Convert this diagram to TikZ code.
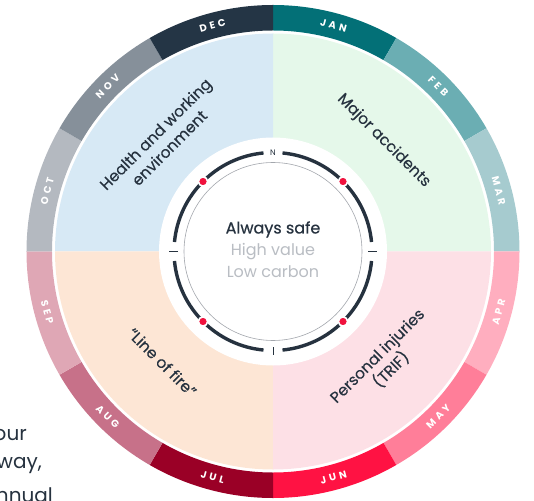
\documentclass[tikz,border=0pt]{standalone}
\usepackage{fontspec}
\setmainfont{Poppins}
\usepackage{xcolor}
\definecolor{ink}{HTML}{26323F}
\definecolor{hubgrey}{HTML}{B9BDC3}
\definecolor{facegrey}{HTML}{A3A7AD}
\definecolor{alarm}{HTML}{F0123E}
\definecolor{quadblue}{HTML}{D7E9F5}
\definecolor{quadgreen}{HTML}{E5F8EA}
\definecolor{quadpeach}{HTML}{FDE6D5}
\definecolor{quadpink}{HTML}{FDE0E6}
\definecolor{monjan}{HTML}{037077}
\definecolor{monfeb}{HTML}{6BAEB3}
\definecolor{monmar}{HTML}{A6CBCF}
\definecolor{monapr}{HTML}{FFAEBF}
\definecolor{monmay}{HTML}{FF7E99}
\definecolor{monjun}{HTML}{FF1243}
\definecolor{monjul}{HTML}{9A0026}
\definecolor{monaug}{HTML}{C77189}
\definecolor{monsep}{HTML}{DFA7B5}
\definecolor{monoct}{HTML}{B4B9C0}
\definecolor{monnov}{HTML}{86909A}
\definecolor{mondec}{HTML}{243545}
\usetikzlibrary{positioning}

\begin{document}
\begin{tikzpicture}[x=1pt, y=1pt,
		monthlbl/.style={text=white, inner sep=0pt,
			font=\fontsize{10}{10}\selectfont\bfseries\addfontfeature{LetterSpace=32}},
		quadlbl/.style={text=ink, align=center, inner sep=0pt,
			font=\fontsize{15.5}{19.5}\selectfont\addfontfeature{FakeBold=0.3}},
		hubmain/.style={text=ink, anchor=base, inner sep=0pt,
			font=\fontsize{16}{16}\selectfont\addfontfeature{FakeBold=0.6}},
		hubsub/.style={hubmain, text=hubgrey,
			font=\fontsize{16}{16}\selectfont},
		dial/.style={ink, line width=3.4pt},
		tick/.style={ink, line width=0.9pt},
		para/.style={text=ink, anchor=base east, inner sep=0pt,
			font=\fontsize{20}{20}\selectfont}]

		\useasboundingbox (-273,-248.5) rectangle (261,251.5);

		% ---------- Radii of the wheel, all measured from its centre
		\def\rout{246.5}   % outer edge of the month ring
		\def\rin{221}      % inner edge of the month ring
		\def\rmon{233.7}   % month labels sit halfway across the ring
		\def\rquad{218}    % quadrant fill, leaving a thin white gap
		\def\rhub{114}     % white hub
		\def\rdial{99}     % dark compass arcs
		\def\rface{89}     % thin grey face circle

		% ================= Quadrants =================
		\foreach \a/\col in {0/quadgreen, 90/quadblue, 180/quadpeach, 270/quadpink}
			\fill[\col] (0,0) -- (\a:\rquad pt) arc[start angle=\a, end angle=\a+90, radius=\rquad pt] -- cycle;

		% ================= Month ring =================
		% JAN starts at twelve o'clock and the months run clockwise;
		% APR..SEP sit on the lower half and are turned to stay upright
		\foreach \mon/\col [count=\i from 0] in {JAN/monjan, FEB/monfeb, MAR/monmar, APR/monapr,
				MAY/monmay, JUN/monjun, JUL/monjul, AUG/monaug, SEP/monsep, OCT/monoct,
				NOV/monnov, DEC/mondec} {
			\pgfmathsetmacro{\sa}{90-30*\i}
			\pgfmathsetmacro{\ea}{60-30*\i}
			\pgfmathsetmacro{\ma}{75-30*\i}
			\pgfmathsetmacro{\rot}{ifthenelse(and(\i>2,\i<9), \ma+90, \ma-90)}
			\fill[\col] (\sa:\rin pt) arc[start angle=\sa, end angle=\ea, radius=\rin pt]
				-- (\ea:\rout pt) arc[start angle=\ea, end angle=\sa, radius=\rout pt] -- cycle;
			\node[monthlbl, rotate=\rot] (m\mon) at (\ma:\rmon pt) {\mon};
		}

		% ================= Quadrant labels, along the diagonals =================
		\node[quadlbl, rotate=45] (health) at (135:156.6pt) {Health and working\\environment};
		\node[quadlbl, rotate=-45] (major) at (45:156.6pt) {Major accidents};
		\node[quadlbl, rotate=-45] (fire) at (225:156.6pt) {“Line of fire”};
		\node[quadlbl, rotate=45] (injury) at (315:158pt) {Personal injuries\\(TRIF)};

		% ================= Hub with compass dial =================
		\fill[white] (0,0) circle (\rhub pt);
		\draw[facegrey, line width=0.6pt] (0,0) circle (\rface pt);

		% four dial arcs, broken at N, E, S and W
		\foreach \a in {0,90,180,270} {
			\pgfmathsetmacro{\da}{\a+5.5}
			\pgfmathsetmacro{\db}{\a+84.5}
			\draw[dial] (\da:\rdial pt) arc[start angle=\da, end angle=\db, radius=\rdial pt];
		}

		% red markers on the diagonals, ringed in white to cut the arc
		\foreach \a in {45,135,225,315}
			\filldraw[fill=alarm, draw=white, line width=1.6pt] (\a:\rdial pt) circle (4.6pt);

		\node[text=ink, inner sep=0pt, font=\fontsize{8}{8}\selectfont] (north) at (90:\rdial pt) {N};
		\draw[tick] (0:95pt) -- (0:104pt);
		\draw[tick] (180:95pt) -- (180:104pt);
		\draw[tick] (270:95.5pt) -- (270:103pt);

		\node[hubmain] (safe) at (0,18) {Always safe};
		\node[hubsub] (value) at ([yshift=-22pt]safe.base) {High value};
		\node[hubsub] (carbon) at ([yshift=-22pt]value.base) {Low carbon};

		% ---------- running text beside the wheel, cut by the page edge
		\node[para] (line1) at (-246,-188.5) {our};
		\node[para] (line2) at (-231,-216.5) {way,};
		\node[para] (line3) at (-220,-251) {nnual};
	\end{tikzpicture}
\end{document}
